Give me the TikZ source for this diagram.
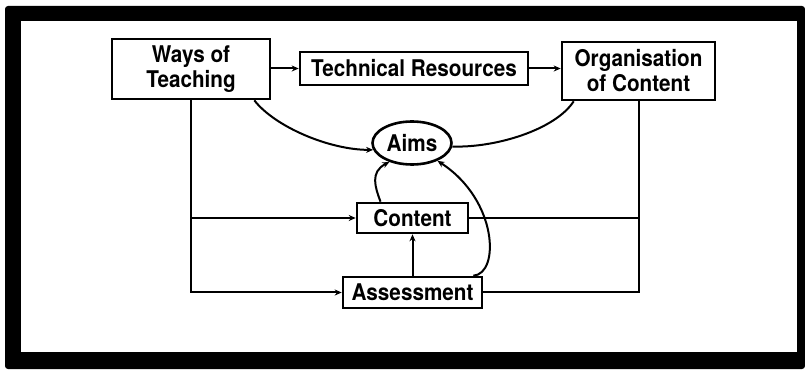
\documentclass[tikz,border=0pt]{standalone}
\usepackage{fontspec}
\setmainfont[FakeStretch=0.9]{TeX Gyre Heros}
\usetikzlibrary{arrows.meta,shapes.geometric}
\begin{document}
\begin{tikzpicture}[x=1pt,y=1pt,
  box/.style={draw, line width=2.6pt, rectangle, inner sep=0pt, align=center,
    font=\bfseries\fontsize{23}{25}\selectfont},
  conn/.style={line width=2pt},
  arr/.style={conn, -{Stealth[length=7pt,width=6pt]}},
]
\useasboundingbox (0,0) rectangle (805,372);
% black mount round the white panel
\fill[white] (0,0) rectangle (805,372);
\fill[black, rounded corners=3pt] (5,3) rectangle (805,366);
\fill[white] (21,20) rectangle (797,351);

% boxes
\node[box, minimum width=158pt, minimum height=60pt] (wt) at (191,303) {Ways of\\Teaching};
\node[box, minimum width=228pt, minimum height=33pt] (tr) at (414,303.5) {Technical Resources};
\node[box, minimum width=153pt, minimum height=58pt] (oc) at (638.5,301) {Organisation\\of Content};
\node[box, ellipse, minimum width=79pt, minimum height=43pt] (aims) at (412,229) {Aims};
\node[box, minimum width=111pt, minimum height=30pt] (con) at (412.5,154) {Content};
\node[box, minimum width=139pt, minimum height=31pt] (ass) at (412.5,79.5) {Assessment};

% top row
\draw[arr] (tr.west -| wt.east) -- (tr.west);
\draw[arr] (tr.east) -- (tr.east -| oc.west);

% curves into Aims
\draw[arr] ([xshift=-17pt]wt.south east) .. controls (275,245) and (330,222) .. (aims.190);
\draw[conn] ([xshift=13pt]oc.south west) .. controls (555,242) and (495,224) .. (aims.-5);
\draw[arr] ([xshift=-32pt]con.north) .. controls (375,185) and (370,200) .. (aims.-140);
\draw[arr] ([xshift=-10pt]ass.north east) .. controls (500,98) and (498,172) .. (aims.-35);

% left trunk
\draw[arr] (wt.south) |- (ass.west);
\draw[arr] (wt.south |- con.west) -- (con.west);
% right trunk
\draw[conn] (oc.south) |- (ass.east);
\draw[conn] (oc.south |- con.east) -- (con.east);
% Assessment to Content
\draw[arr] (ass.north) -- (con.south);
\end{tikzpicture}
\end{document}
